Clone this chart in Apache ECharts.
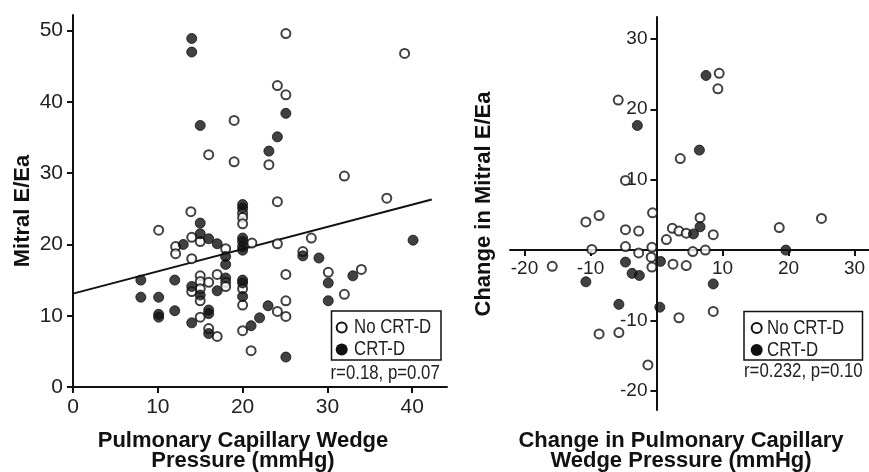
<!DOCTYPE html>
<html>
<head>
<meta charset="utf-8">
<script src="https://cdn.jsdelivr.net/npm/echarts@6/dist/echarts.min.js"></script>
<style>
  html, body { margin: 0; padding: 0; background: #fff; }
  #chart { width: 869px; height: 472px; }
</style>
</head>
<body>
<div id="chart"></div>
<script>
// ---------------- 左图数据: PCWP vs Mitral E/Ea ----------------
var leftNoCrt = [
    [24.1, 42.3], [25.1, 41.0], [19.0, 37.4], [16.0, 32.6], [19.0, 31.6], [23.1, 31.2],
    [32.0, 29.6], [37.0, 26.5], [24.1, 26.0], [13.9, 24.6], [10.1, 22.0], [20.0, 24.4],
    [20.0, 23.8], [20.0, 22.9], [14.0, 21.0], [15.0, 20.4], [12.1, 19.7], [12.1, 18.7],
    [14.0, 18.0], [18.0, 19.4], [21.1, 20.2], [24.1, 20.1], [28.1, 20.9], [27.1, 19.0],
    [15.0, 15.6], [15.0, 14.8], [15.0, 13.8], [14.0, 13.4], [16.0, 14.7], [17.0, 15.8],
    [18.0, 14.7], [18.0, 14.1], [20.0, 13.8], [20.0, 11.5], [25.1, 15.8], [25.1, 12.1],
    [24.1, 10.6], [25.1, 9.9], [30.1, 16.1], [32.0, 13.0], [34.0, 16.5], [15.0, 12.1],
    [15.0, 9.8], [16.0, 8.2], [17.0, 7.1], [20.0, 7.9], [21.0, 5.1], [25.1, 49.6],
    [39.1, 46.8]
];
var leftCrt = [
    [14.0, 48.9], [14.0, 47.0], [15.0, 36.7], [25.1, 38.4], [24.1, 35.1], [23.1, 33.1],
    [20.0, 25.6], [20.0, 25.1], [20.0, 20.9], [20.0, 20.4], [20.0, 19.7], [20.0, 19.2],
    [15.0, 23.0], [15.0, 21.5], [16.0, 20.8], [13.0, 20.0], [17.0, 20.1], [18.0, 18.3],
    [18.0, 17.2], [18.0, 15.3], [27.1, 18.4], [29.0, 18.1], [40.1, 20.6], [8.0, 15.0],
    [8.0, 12.6], [10.1, 12.6], [10.1, 10.2], [10.1, 9.8], [12.0, 15.0], [12.0, 10.7],
    [14.0, 14.1], [14.0, 9.0], [17.0, 13.5], [15.0, 12.9], [20.0, 15.0], [20.0, 14.6],
    [20.0, 12.7], [16.0, 10.8], [16.0, 10.3], [16.0, 7.5], [21.0, 8.6], [22.0, 9.7],
    [23.0, 11.4], [30.1, 14.6], [30.1, 12.1], [33.0, 15.6], [25.1, 4.2]
];
// 回归线两端
var leftFit = [[0, 13.1], [42.3, 26.3]];
var leftXTicks = [0, 10, 20, 30, 40];
var leftYTicks = [0, 10, 20, 30, 40, 50];

// ---------------- 右图数据: 变化量 ----------------
var rightNoCrt = [
    [-5.8, 21.3], [9.5, 25.1], [9.3, 22.9], [3.6, 13.0], [-4.7, 9.9], [-10.7, 4.0],
    [-8.7, 4.9], [-9.8, 0.1], [-15.8, -2.3], [-4.7, 2.9], [-2.7, 2.7], [-4.7, 0.5],
    [-2.7, -0.4], [-0.6, 5.3], [-0.7, 0.4], [-0.8, -1.0], [-0.7, -2.4], [2.5, -2.0],
    [4.5, -2.2], [1.5, 1.5], [2.4, 3.1], [3.4, 2.7], [4.5, 2.4], [6.6, 4.6],
    [5.5, -0.2], [7.4, 0.0], [8.6, 2.2], [8.6, -8.7], [3.4, -9.6], [-8.7, -11.9],
    [-5.7, -11.7], [-1.3, -16.3], [18.6, 3.2], [25.0, 4.5]
];
var rightCrt = [
    [-2.9, 17.7], [7.5, 24.8], [6.5, 14.2], [-10.7, -4.5], [-4.7, -1.7], [-3.7, -3.3],
    [-2.6, -3.6], [0.6, -1.6], [5.6, 2.3], [6.6, 3.3], [8.6, -4.8], [-5.7, -7.7],
    [0.5, -8.1], [19.6, 0.0]
];
var rightXTicks = [-20, -10, 10, 20, 30];
var rightYTicks = [-20, -10, 10, 20, 30];

var legendNames = ['No CRT-D', 'CRT-D'];
var statLeft = 'r=0.18, p=0.07';
var statRight = 'r=0.232, p=0.10';

//*******************************    样式   *******************************
var SANS = '"Liberation Sans", Arial, sans-serif';
var INK = '#111';
var openStyle = { color: '#fff', borderColor: INK, borderWidth: 2 };
var fillStyle = { color: INK, borderColor: INK, borderWidth: 1 };

// 右图的坐标范围, 轴线要穿过 0 点
var grid2 = { left: 510, top: 17, width: 359, bottom: 62 };
var xRMin = -22.2, xRMax = 32.2, yRMin = -22.7, yRMax = 33.1;
var grid2H = 472 - grid2.top - grid2.bottom;

function axisCommon(ticks, fontSize, margin) {
    return {
        type: 'value',
        splitLine: { show: false },
        axisLine: { show: true, onZero: false, lineStyle: { color: INK, width: 2 } },
        axisTick: { show: true, length: 6, customValues: ticks, lineStyle: { color: INK, width: 2 } },
        axisLabel: { customValues: ticks, color: '#222', fontFamily: SANS, fontSize: fontSize, margin: margin }
    };
}

var xL = axisCommon(leftXTicks, 21, 10);  xL.gridIndex = 0; xL.min = 0;     xL.max = 44.1;
var yL = axisCommon(leftYTicks, 21, 10);  yL.gridIndex = 0; yL.min = 0;     yL.max = 52.2;
var xR = axisCommon(rightXTicks, 19, 9);  xR.gridIndex = 1; xR.min = xRMin; xR.max = xRMax;
var yR = axisCommon(rightYTicks, 19, 9);  yR.gridIndex = 1; yR.min = yRMin; yR.max = yRMax;
// 用负 offset 把轴挪到 0 的位置
xR.position = 'bottom';
xR.offset = -(grid2H * (0 - yRMin) / (yRMax - yRMin));
yR.position = 'left';
yR.offset = -(grid2.width * (0 - xRMin) / (xRMax - xRMin));

// 图例框 (原图是窄体字, 用 scaleX 压一下)
function legendBox(x, y, w, h, cx, tx, stat, sx, sy) {
    var t = function (str, px, py) {
        return {
            type: 'text', x: px, y: py, scaleX: 0.84,
            style: { text: str, fill: '#222', align: 'left', verticalAlign: 'middle', font: '20px ' + SANS }
        };
    };
    return {
        type: 'group',
        children: [
            { type: 'rect', shape: { x: x, y: y, width: w, height: h }, style: { fill: '#fff', stroke: INK, lineWidth: 1.5 } },
            { type: 'circle', shape: { cx: cx, cy: y + 16.5, r: 5 }, style: { fill: '#fff', stroke: INK, lineWidth: 2 } },
            { type: 'circle', shape: { cx: cx, cy: y + 38.5, r: 6 }, style: { fill: INK } },
            t(legendNames[0], tx, y + 16.5),
            t(legendNames[1], tx, y + 38.5),
            t(stat, sx, sy)
        ]
    };
}

function titleText(x, y, str, rotate) {
    return {
        type: 'text', x: x, y: y, rotation: rotate ? Math.PI / 2 : 0,
        style: {
            text: str, fill: INK, align: 'center', verticalAlign: 'middle',
            font: 'bold 22px ' + SANS, lineHeight: 19.5
        }
    };
}

var myChart = echarts.init(document.getElementById('chart'), null, { renderer: 'canvas' });

myChart.setOption({
    animation: false,
    backgroundColor: '#fff',
    grid: [
        { left: 73, top: 15, width: 374, bottom: 85 },
        grid2
    ],
    xAxis: [xL, xR],
    yAxis: [yL, yR],
    graphic: [
        titleText(243, 451, 'Pulmonary Capillary Wedge\nPressure (mmHg)'),
        titleText(681, 451, 'Change in Pulmonary Capillary\nWedge Pressure (mmHg)'),
        titleText(23, 211, 'Mitral E/Ea', true),
        titleText(484, 204, 'Change in Mitral E/Ea', true),
        legendBox(331.5, 311, 109.5, 49, 341.7, 354, statLeft, 330.5, 373),
        legendBox(744, 311.5, 118.5, 48.5, 756.7, 767, statRight, 744, 371)
    ],
    series: [
        {
            type: 'line', xAxisIndex: 0, yAxisIndex: 0, data: leftFit,
            showSymbol: false, silent: true, z: 1,
            lineStyle: { color: INK, width: 2 }
        },
        { name: legendNames[0], type: 'scatter', xAxisIndex: 0, yAxisIndex: 0, data: leftNoCrt, symbolSize: 9, itemStyle: openStyle, z: 2 },
        { name: legendNames[1], type: 'scatter', xAxisIndex: 0, yAxisIndex: 0, data: leftCrt, symbolSize: 10, itemStyle: fillStyle, z: 3 },
        { name: legendNames[0], type: 'scatter', xAxisIndex: 1, yAxisIndex: 1, data: rightNoCrt, symbolSize: 9, itemStyle: openStyle, z: 2 },
        { name: legendNames[1], type: 'scatter', xAxisIndex: 1, yAxisIndex: 1, data: rightCrt, symbolSize: 10, itemStyle: fillStyle, z: 3 }
    ]
});
</script>
</body>
</html>
